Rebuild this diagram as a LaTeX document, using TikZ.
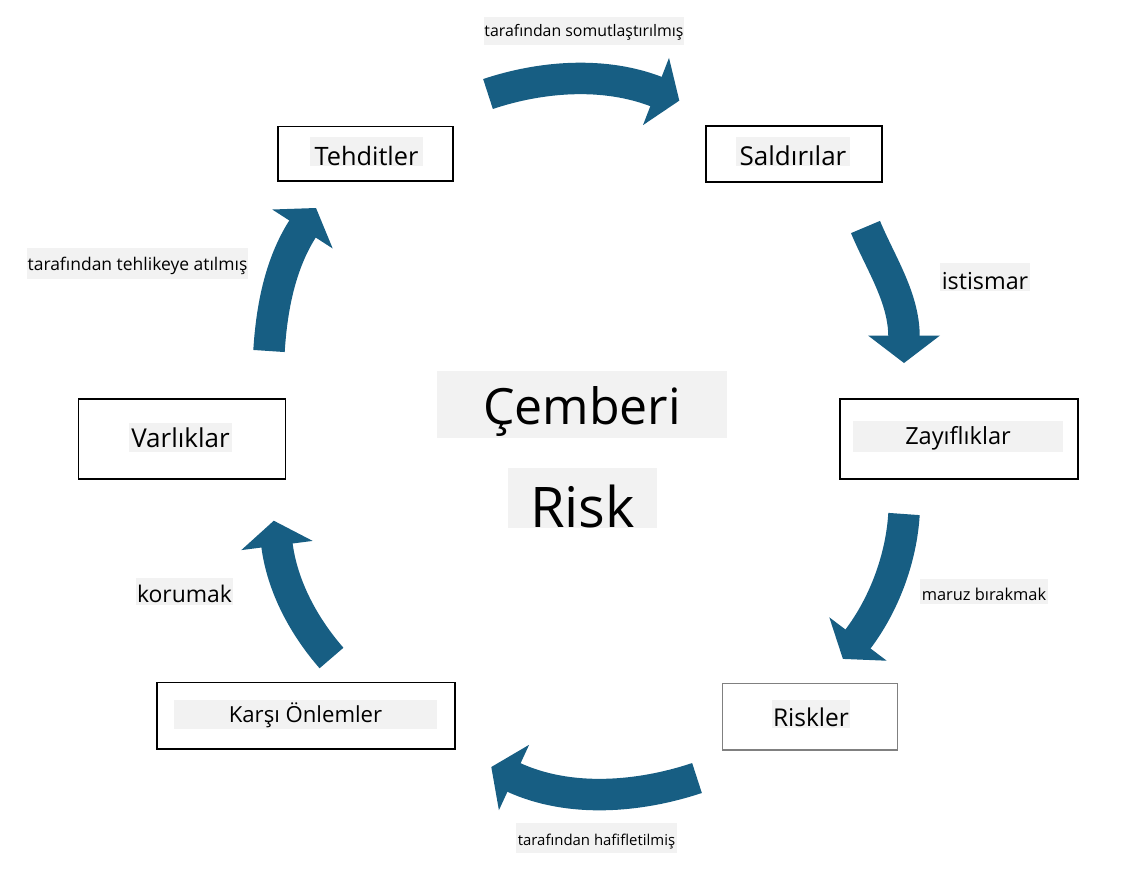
\documentclass[tikz,border=0pt]{standalone}
\usepackage{fontspec}
\setmainfont{Open Sans}

\definecolor{okmavi}{RGB}{23,94,131}
\definecolor{vurgugri}{RGB}{242,242,242}
\definecolor{kenargri}{RGB}{128,128,128}

\newcommand{\boy}[1]{\fontsize{#1}{#1}\selectfont}

\tikzset{
  kutu/.style={draw=black, line width=1.1pt, inner sep=0pt},
  vurgu/.style={fill=vurgugri, inner sep=0pt, anchor=base},
  ok/.style={draw=okmavi, line width=23.6pt, shorten >=-0.75pt},
  okucu/.style={fill=okmavi},
}

\begin{document}
\begin{tikzpicture}[x=0.75pt,y=0.75pt,yscale=-1,xscale=1]
        \useasboundingbox (0,0) rectangle (1121,876);

        %Shape: Rectangle [kutular]
        \node[kutu, minimum width=131.25pt, minimum height=40.9pt] (tehditler) at (365.5,153.75) {};
        \node[kutu, minimum width=132pt, minimum height=42pt] (saldirilar) at (794,154) {};
        \node[kutu, minimum width=178.5pt, minimum height=60pt] (zayifliklar) at (959,439) {};
        \node[kutu, draw=kenargri, minimum width=131.25pt, minimum height=50pt] (riskler) at (810,716.7) {};
        \node[kutu, minimum width=223.3pt, minimum height=50pt] (onlemler) at (306,715.7) {};
        \node[kutu, minimum width=155.5pt, minimum height=59.8pt] (varliklar) at (182,439) {};

        % Text Node
        \node[vurgu, minimum width=84.75pt, text height=21pt, text depth=0.75pt, font=\boy{19}] (tehditlerY) at (366.5,165) {Tehditler};
        \node[vurgu, minimum width=85.5pt, text height=21pt, text depth=0.75pt, font=\boy{19.5}] (saldirilarY) at (793,165) {Saldırılar};
        \node[vurgu, minimum width=157.5pt, text height=17.5pt, text depth=5.8pt, font=\boy{17.7}] (zayifliklarY) at (958,444.3) {Zayıflıklar};
        \node[vurgu, minimum width=58.5pt, text height=20pt, text depth=1pt, font=\boy{18.4}] (risklerY) at (811,726.7) {Riskler};
        \node[vurgu, minimum width=197.25pt, text height=16.7pt, text depth=5pt, font=\boy{16.6}] (onlemlerY) at (305.5,722.3) {Karşı Önlemler};
        \node[vurgu, minimum width=77.25pt, text height=18.2pt, text depth=3.5pt, font=\boy{19.5}] (varliklarY) at (180.5,447.3) {Varlıklar};

        % Text Node
        \node[vurgu, minimum width=217.5pt, text height=39.75pt, text depth=10.5pt, font=\boy{37.5}] (cemberi) at (582,424) {Çemberi};
        \node[vurgu, minimum width=111.75pt, text height=44.25pt, text depth=0.75pt, font=\boy{42}] (risk) at (582.5,527) {Risk};

        % Text Node
        \node[vurgu, minimum width=148.5pt, text height=14.8pt, text depth=6.2pt, font=\boy{11.9}] (somut) at (584,36.7) {tarafından somutlaştırılmış};
        \node[vurgu, minimum width=67.5pt, text height=19.9pt, text depth=0.75pt, font=\boy{17.5}] (istismar) at (985,289.5) {istismar};
        \node[vurgu, minimum width=96pt, text height=15.75pt, text depth=3pt, font=\boy{12.3}] (maruz) at (984,600) {maruz bırakmak};
        \node[vurgu, minimum width=120.75pt, text height=16.5pt, text depth=6pt, font=\boy{11.2}] (hafif) at (596.5,845) {tarafından hafifletilmiş};
        \node[vurgu, minimum width=72.75pt, text height=18.5pt, text depth=1.7pt, font=\boy{17.2}] (korumak) at (184.5,602.7) {korumak};
        \node[vurgu, minimum width=165.75pt, text height=16.7pt, text depth=6.75pt, font=\boy{13.1}] (tehlike) at (137.5,270) {tarafından tehlikeye atılmış};

        %Shape: Curved Arrow [oklar]
        \coordinate (k1) at (488,94);
        \coordinate (u1) at (656,91.5);
        \coordinate (t1) at (679.3,100.6);
        \draw[ok] (k1) .. controls (541,76.3) and (603.8,71.2) .. (u1);
        \fill[okucu] (669,57.9) -- (t1) -- (643,125.1) -- cycle;

        \coordinate (k2) at (865.5,227);
        \coordinate (u2) at (904,335.5);
        \coordinate (t2) at (904,363);
        \draw[ok] (k2) .. controls (880,262.1) and (904,297.5) .. (u2);
        \fill[okucu] (940,335.5) -- (t2) -- (868,335.5) -- cycle;

        \coordinate (k3) at (904,514);
        \coordinate (u3) at (858,639);
        \coordinate (t3) at (842.9,658.9);
        \draw[ok] (k3) .. controls (901.3,557.9) and (884.6,603.9) .. (u3);
        \fill[okucu] (886.7,660.7) -- (t3) -- (829.3,617.3) -- cycle;

        \coordinate (k4) at (697,778);
        \coordinate (u4) at (514,777.5);
        \coordinate (t4) at (491.3,767);
        \draw[ok] (k4) .. controls (639.1,797.3) and (569.4,803.1) .. (u4);
        \fill[okucu] (498.9,810.2) -- (t4) -- (529.1,744.8) -- cycle;

        \coordinate (k5) at (331.5,658);
        \coordinate (u5) at (277,545.5);
        \coordinate (t5) at (273.8,520.7);
        \draw[ok] (k5) .. controls (304.1,626.6) and (282.3,586.8) .. (u5);
        \fill[okucu] (312.7,540.9) -- (t5) -- (241.3,550.1) -- cycle;

        \coordinate (k6) at (269,351);
        \coordinate (u6) at (302.5,229);
        \coordinate (t6) at (316,208);
        \draw[ok] (k6) .. controls (271.6,309.1) and (279.8,264.3) .. (u6);
        \fill[okucu] (332.7,248.5) -- (t6) -- (272.3,209.5) -- cycle;

\end{tikzpicture}
\end{document}
